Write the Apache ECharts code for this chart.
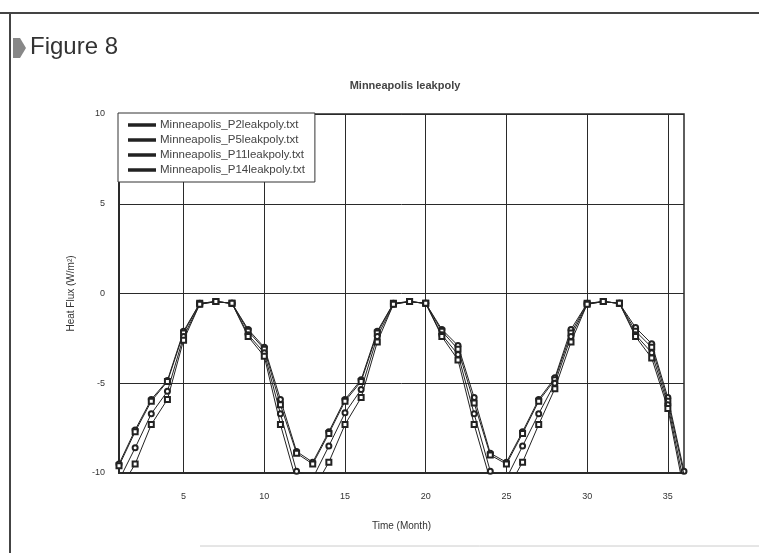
<!DOCTYPE html>
<html>
<head>
<meta charset="utf-8">
<script src="https://cdn.jsdelivr.net/npm/echarts@6/dist/echarts.min.js"></script>
<style>
html,body{margin:0;padding:0;background:#fff;}
#c{width:759px;height:553px;}
</style>
</head>
<body>
<div id="c"></div>
<script>
const months = Array.from({length: 36}, (_, i) => String(i + 1));
const seriesNames = ['Minneapolis_P2leakpoly.txt', 'Minneapolis_P5leakpoly.txt', 'Minneapolis_P11leakpoly.txt', 'Minneapolis_P14leakpoly.txt'];
const p2 = [-9.5, -7.6, -5.9, -4.85, -2.1, -0.55, -0.45, -0.55, -2.0, -3.0, -5.9, -8.8,
            -9.4, -7.7, -5.9, -4.8, -2.1, -0.55, -0.45, -0.55, -2.0, -2.9, -5.8, -8.9,
            -9.4, -7.7, -5.9, -4.7, -2.0, -0.55, -0.45, -0.55, -1.9, -2.8, -5.8, -9.9];
const p5 = [-9.6, -7.7, -6.0, -4.9, -2.2, -0.55, -0.45, -0.55, -2.1, -3.1, -6.2, -8.9,
            -9.5, -7.8, -6.0, -4.9, -2.2, -0.55, -0.45, -0.55, -2.1, -3.1, -6.1, -9.0,
            -9.5, -7.8, -6.0, -4.8, -2.2, -0.55, -0.45, -0.55, -2.1, -3.0, -6.0, -10.1];
const p11 = [-10.4, -8.6, -6.7, -5.45, -2.4, -0.6, -0.45, -0.55, -2.3, -3.3, -6.7, -9.9,
             -10.3, -8.5, -6.65, -5.35, -2.4, -0.6, -0.45, -0.55, -2.3, -3.4, -6.7, -9.9,
             -10.3, -8.5, -6.7, -5.0, -2.4, -0.6, -0.45, -0.55, -2.3, -3.3, -6.2, -10.6];
const p14 = [-11.0, -9.5, -7.3, -5.9, -2.6, -0.6, -0.45, -0.55, -2.4, -3.5, -7.3, -10.5,
             -11.0, -9.4, -7.3, -5.8, -2.7, -0.6, -0.45, -0.55, -2.4, -3.7, -7.3, -10.4,
             -11.0, -9.4, -7.3, -5.3, -2.7, -0.6, -0.45, -0.55, -2.4, -3.6, -6.4, -11.0];
const yTicks = [-10, -5, 0, 5, 10];
const allValues = [p2, p5, p11, p14];

const chart = echarts.init(document.getElementById('c'), null, {renderer: 'canvas'});
const gridColor = '#2a2a2a';
const txt = '#333';
const isMajor = (idx) => (idx + 1) % 5 === 0;

chart.setOption({
  backgroundColor: '#ffffff',
  animation: false,
  title: {
    text: 'Minneapolis leakpoly',
    left: 400, top: 75, textAlign: 'center',
    textStyle: {fontFamily: 'Liberation Sans, Arial, sans-serif', fontSize: 11, fontWeight: 'bold', color: '#444'}
  },
  legend: {
    data: seriesNames,
    orient: 'vertical',
    left: 118, top: 113,
    padding: [6, 10, 6, 10],
    itemGap: 3,
    itemWidth: 26, itemHeight: 1.5,
    icon: 'rect',
    backgroundColor: '#fff',
    borderColor: '#333', borderWidth: 1,
    textStyle: {fontFamily: 'Liberation Sans, Arial, sans-serif', fontSize: 11.5, color: '#444', lineHeight: 12}
  },
  grid: {left: 119, right: 75, top: 114, bottom: 80, show: true, borderColor: gridColor, borderWidth: 1.5},
  xAxis: {
    type: 'category',
    data: months,
    boundaryGap: false,
    name: 'Time (Month)',
    nameLocation: 'middle',
    nameGap: 48,
    nameTextStyle: {fontFamily: 'Liberation Sans, Arial, sans-serif', fontSize: 10, color: txt},
    axisLine: {onZero: false, lineStyle: {color: gridColor, width: 2}},
    axisTick: {show: false},
    axisLabel: {interval: (i) => isMajor(i), margin: 19, fontFamily: 'Liberation Sans, Arial, sans-serif', fontSize: 9, color: txt},
    splitLine: {show: true, interval: (i) => isMajor(i), lineStyle: {color: gridColor, width: 1}}
  },
  yAxis: {
    type: 'value',
    min: yTicks[0], max: yTicks[yTicks.length - 1], interval: 5,
    name: 'Heat Flux (W/m²)',
    nameLocation: 'middle',
    nameGap: 43,
    nameTextStyle: {fontFamily: 'Liberation Sans, Arial, sans-serif', fontSize: 10, color: txt},
    axisLine: {show: true, onZero: false, lineStyle: {color: gridColor, width: 2}},
    axisTick: {show: false},
    axisLabel: {margin: 14, fontFamily: 'Liberation Sans, Arial, sans-serif', fontSize: 9, color: txt},
    splitLine: {show: true, lineStyle: {color: gridColor, width: 1}}
  },
  graphic: [
    {type: 'line', shape: {x1: 0, y1: 13, x2: 759, y2: 13}, style: {stroke: '#444', lineWidth: 2}},
    {type: 'line', shape: {x1: 10, y1: 13, x2: 10, y2: 553}, style: {stroke: '#444', lineWidth: 2}},
    {type: 'line', shape: {x1: 200, y1: 546, x2: 759, y2: 546}, style: {stroke: '#ccc', lineWidth: 1}},
    {type: 'polygon', shape: {points: [[13, 38], [20, 38], [26, 48], [20, 58], [13, 58]]}, style: {fill: '#888'}},
    {type: 'text', left: 30, top: 35, style: {text: 'Figure 8', font: '24px "Liberation Sans", Arial, sans-serif', fill: '#333'}}
  ],
  series: seriesNames.map((n, k) => ({
    name: n,
    type: 'line',
    data: allValues[k],
    clip: true,
    symbol: k % 2 === 0 ? 'emptyCircle' : 'emptyRect',
    symbolSize: 5,
    lineStyle: {color: '#222', width: 1},
    itemStyle: {color: '#222', borderColor: '#222', borderWidth: 1},
    z: 3 + k
  }))
});
</script>
</body>
</html>
